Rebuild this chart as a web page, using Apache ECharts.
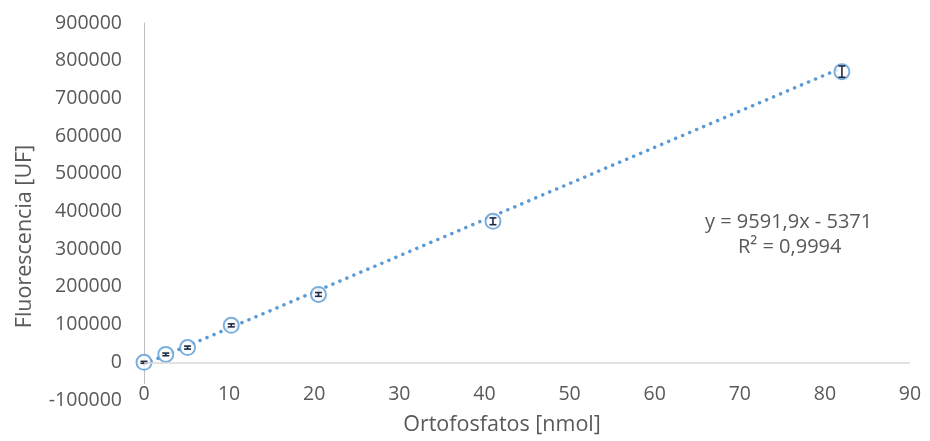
<!DOCTYPE html>
<html>
<head>
<meta charset="utf-8">
<script src="https://cdn.jsdelivr.net/npm/echarts@6/dist/echarts.min.js"></script>
<style>
  html, body { margin: 0; padding: 0; background: #fff; }
  #chart { width: 930px; height: 441px; }
</style>
</head>
<body>
<div id="chart"></div>
<script>
// Calibration curve: orthophosphate amount vs fluorescence
const phosphateNmol = [0, 2.56, 5.12, 10.25, 20.5, 41, 82];
const fluorescence  = [0, 21000, 39000, 98000, 180000, 374000, 771000];
const fluorescenceSd = [2500, 3500, 4000, 4000, 5000, 9000, 15000];

// Linear fit reported on the chart
const fitSlope = 9591.9;
const fitIntercept = -5371;
const fitR2 = 0.9994;

const xTicks = { min: 0, max: 90, step: 10 };
const yTicks = { min: -100000, max: 900000, step: 100000 };

const xTitle = 'Ortofosfatos [nmol]';
const yTitle = 'Fluorescencia [UF]';

const blue = '#5B9BD5';
const grey = '#595959';
const font = '"Open Sans", "Noto Sans", sans-serif';

const points = phosphateNmol.map((x, i) => [x, fluorescence[i]]);
const errRows = phosphateNmol.map((x, i) => [x, fluorescence[i], fluorescenceSd[i]]);

const xFitStart = Math.min(...phosphateNmol);
const xFitEnd = Math.max(...phosphateNmol);
const fitLine = [
  [xFitStart, fitSlope * xFitStart + fitIntercept],
  [xFitEnd, fitSlope * xFitEnd + fitIntercept]
];

const fmt = (v, d) => v.toFixed(d).replace('.', ',');
const eqText = 'y = ' + fmt(fitSlope, 1) + 'x ' + (fitIntercept < 0 ? '- ' : '+ ') + Math.abs(fitIntercept);
const r2Text = 'R² = ' + fmt(fitR2, 4);

const chart = echarts.init(document.getElementById('chart'));
chart.setOption({
  animation: false,
  backgroundColor: '#fff',
  grid: { left: 144, right: 20, top: 23, bottom: 38, containLabel: false },
  xAxis: {
    type: 'value',
    min: xTicks.min, max: xTicks.max, interval: xTicks.step,
    axisLine: { show: false },
    axisTick: { show: false },
    splitLine: { show: false },
    axisLabel: {
      color: grey, fontFamily: font, fontSize: 19.5,
      margin: -16, backgroundColor: '#fff', padding: [0, 2, 0, 2],
      formatter: v => String(v)
    },
    name: xTitle,
    nameLocation: 'middle',
    nameGap: 14,
    nameTextStyle: { color: grey, fontFamily: font, fontSize: 21.5, padding: [0, 50, 0, 0] }
  },
  yAxis: {
    type: 'value',
    min: yTicks.min, max: yTicks.max, interval: yTicks.step,
    axisLine: { show: true, onZero: false, lineStyle: { color: '#BFBFBF', width: 1 } },
    axisTick: { show: false },
    splitLine: { show: false },
    axisLabel: { color: grey, fontFamily: font, fontSize: 19.5, margin: 22, formatter: v => String(v) },
    name: yTitle,
    nameLocation: 'middle',
    nameGap: 108,
    nameTextStyle: { color: grey, fontFamily: font, fontSize: 21.5, padding: [0, 50, 0, 0] }
  },
  series: [
    {
      // linear trend line
      type: 'line',
      data: fitLine,
      symbol: 'none',
      z: 2,
      lineStyle: { color: blue, width: 3.5, type: [0.1, 7.5], cap: 'round' },
      markLine: {
        silent: true,
        symbol: 'none',
        label: { show: false },
        lineStyle: { color: '#D9D9D9', width: 1.5, type: 'solid' },
        data: [{ yAxis: 0 }]
      }
    },
    {
      type: 'scatter',
      data: points,
      symbol: 'emptyCircle',
      symbolSize: 15,
      z: 3,
      itemStyle: { color: blue, borderColor: blue, borderWidth: 2 }
    },
    {
      // error bars (± standard deviation)
      type: 'custom',
      data: errRows,
      z: 4,
      renderItem: function (params, api) {
        const x = api.value(0), y = api.value(1), e = api.value(2);
        const hi = api.coord([x, y + e]);
        const lo = api.coord([x, y - e]);
        const cap = 3.5;
        const style = { stroke: '#1F2A44', lineWidth: 1.6 };
        return {
          type: 'group',
          children: [
            { type: 'line', shape: { x1: hi[0], y1: hi[1], x2: lo[0], y2: lo[1] }, style: style },
            { type: 'line', shape: { x1: hi[0] - cap, y1: hi[1], x2: hi[0] + cap, y2: hi[1] }, style: style },
            { type: 'line', shape: { x1: lo[0] - cap, y1: lo[1], x2: lo[0] + cap, y2: lo[1] }, style: style }
          ]
        };
      }
    }
  ],
  graphic: [
    {
      type: 'text', left: 790 - 85, top: 212,
      style: { text: eqText, fill: grey, font: '20px ' + font, textAlign: 'left' }
    },
    {
      type: 'text', left: 790 - 52, top: 237,
      style: { text: r2Text, fill: grey, font: '20px ' + font, textAlign: 'left' }
    }
  ]
});
</script>
</body>
</html>
